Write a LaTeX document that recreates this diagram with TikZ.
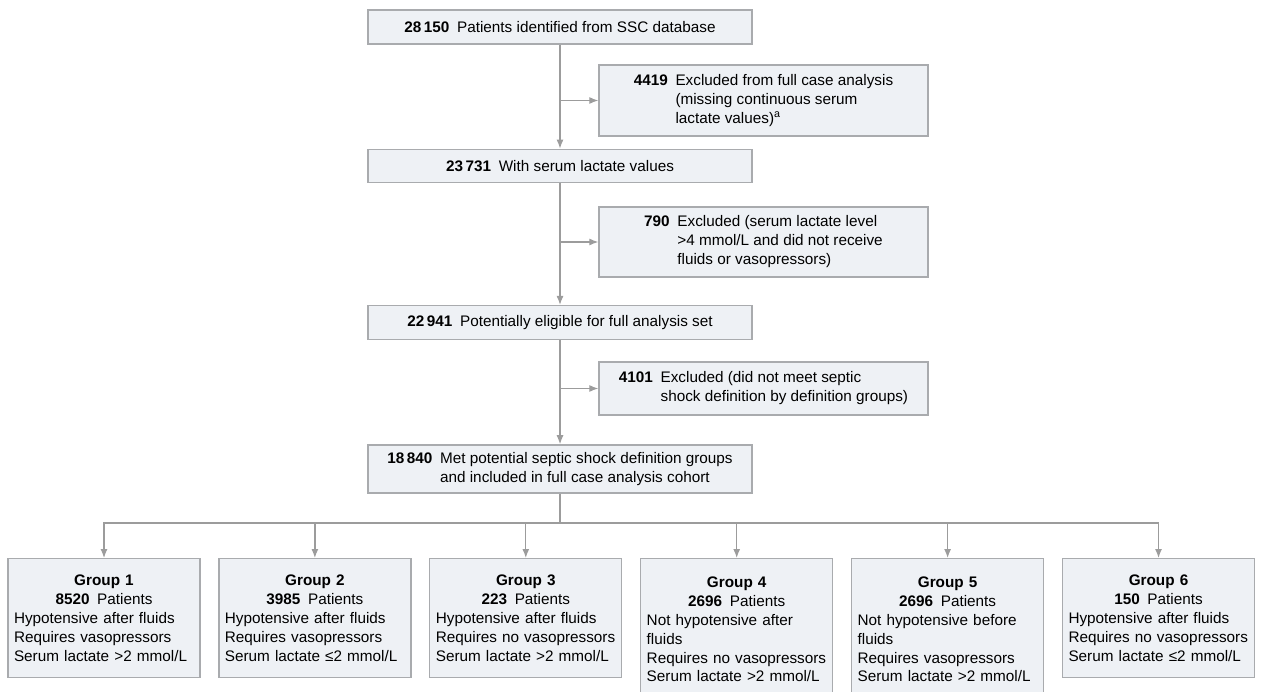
\documentclass[tikz,border=0pt]{standalone}
\usepackage{fontspec}
\setmainfont{Liberation Sans}
\usepackage{xcolor}
\usetikzlibrary{arrows.meta, positioning, calc}
\definecolor{boxfill}{HTML}{EEF1F5}
\definecolor{boxline}{HTML}{A9ABAE}
\definecolor{linkgray}{HTML}{9C9C9C}
\tikzstyle{block} = [draw=boxline, fill=boxfill, rectangle, line width=1.3pt, minimum width=384pt, minimum height=34pt, inner sep=0pt, text centered]
\tikzstyle{excl} = [draw=boxline, fill=boxfill, rectangle, line width=1.3pt, minimum width=329pt, inner sep=0pt]
\tikzstyle{grp} = [draw=boxline, fill=boxfill, rectangle, line width=1.3pt, anchor=north, text width=180pt, inner xsep=6pt, inner ysep=14pt, minimum height=119pt]
\tikzstyle{arrow} = [draw=linkgray, -{Latex[length=9pt,width=7pt]}, line width=1.2pt]
\tikzstyle{line} = [draw=linkgray, line width=1.2pt]
\newcommand{\grouptext}[3]{\centering\textbf{Group #1}\\\textbf{#2}\enspace Patients\par\raggedright #3}

\begin{document}
\begin{tikzpicture}[x=1pt, y=-1pt, font=\fontsize{15.3}{18.8}\selectfont]
    \useasboundingbox (0,0) rectangle (1264,692);

    % main column
    \node (n28150) [block] at (560,27) {\textbf{28\,150}\enspace Patients identified from SSC database};
    \node (n23731) [block, minimum height=33pt, below=104pt of n28150] {\textbf{23\,731}\enspace With serum lactate values};
    \node (n22941) [block, below=122pt of n23731] {\textbf{22\,941}\enspace Potentially eligible for full analysis set};
    \node (n18840) [block, minimum height=48pt, below=104pt of n22941] {\begin{tabular}{@{}l@{\enspace}l@{}}\textbf{18\,840} & Met potential septic shock definition groups\\ & and included in full case analysis cohort\end{tabular}};

    % exclusions
    \node (excl1) [excl, minimum height=71pt] at (763.5,100.5) {\begin{tabular}{@{}l@{\enspace}l@{}}\textbf{4419} & Excluded from full case analysis\\ & (missing continuous serum\\ & lactate values)\textsuperscript{a}\end{tabular}};
    \node (excl2) [excl, minimum height=70pt] at (763.5,242) {\begin{tabular}{@{}l@{\enspace}l@{}}\textbf{790} & Excluded (serum lactate level\\ & >4 mmol/L and did not receive\\ & fluids or vasopressors)\end{tabular}};
    \node (excl3) [excl, minimum height=53pt] at (763.5,388.5) {\begin{tabular}{@{}l@{\enspace}l@{}}\textbf{4101} & Excluded (did not meet septic\\ & shock definition by definition groups)\end{tabular}};

    % definition groups (4 and 5 run off the bottom edge)
    \node (g1) [grp] at (104,558) {\grouptext{1}{8520}{Hypotensive after fluids\\Requires vasopressors\\Serum lactate >2 mmol/L}};
    \node (g2) [grp] at (314.9,558) {\grouptext{2}{3985}{Hypotensive after fluids\\Requires vasopressors\\Serum lactate ≤2 mmol/L}};
    \node (g3) [grp] at (525.8,558) {\grouptext{3}{223}{Hypotensive after fluids\\Requires no vasopressors\\Serum lactate >2 mmol/L}};
    \node (g4) [grp, minimum height=142pt] at (736.7,558) {\grouptext{4}{2696}{Not hypotensive after\\fluids\\Requires no vasopressors\\Serum lactate >2 mmol/L}};
    \node (g5) [grp, minimum height=142pt] at (947.6,558) {\grouptext{5}{2696}{Not hypotensive before\\fluids\\Requires vasopressors\\Serum lactate >2 mmol/L}};
    \node (g6) [grp] at (1158.5,558) {\grouptext{6}{150}{Hypotensive after fluids\\Requires no vasopressors\\Serum lactate ≤2 mmol/L}};

    \draw [arrow] (n28150) -- (n23731);
    \draw [arrow] (n23731) -- (n22941);
    \draw [arrow] (n22941) -- (n18840);
    \draw [arrow] (n28150 |- excl1) -- (excl1);
    \draw [arrow] (n23731 |- excl2) -- (excl2);
    \draw [arrow] (n22941 |- excl3) -- (excl3);

    \coordinate (split) at (n18840 |- 0,523);
    \draw [line] (n18840) -- (split);
    \foreach \i in {1,...,6}
        \draw [arrow] (split) -| (g\i);
\end{tikzpicture}
\end{document}
